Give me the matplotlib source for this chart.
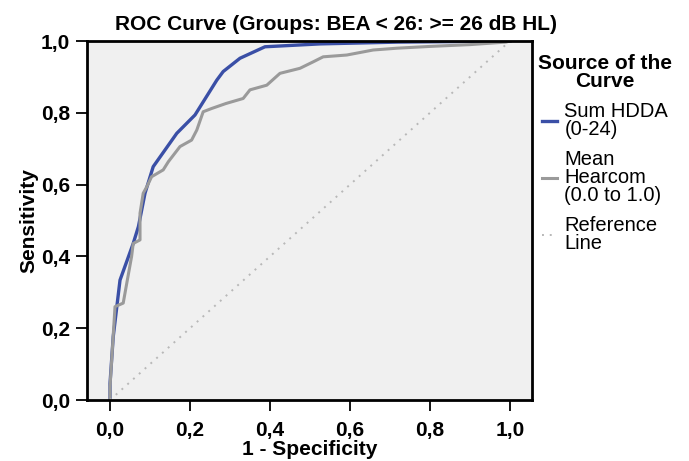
import numpy as np
import matplotlib.pyplot as plt

plt.rcParams['font.family'] = ['Liberation Sans', 'DejaVu Sans']

# Sum HDDA (0-24) curve
hdda_fpr = [0.0, 0.0, 0.008, 0.025, 0.058, 0.071, 0.0875, 0.108, 0.167, 0.2125,
            0.267, 0.283, 0.325, 0.3875, 0.525, 0.72, 1.0]
hdda_tpr = [0.0, 0.046, 0.176, 0.334, 0.436, 0.483, 0.576, 0.65, 0.743, 0.794,
            0.891, 0.915, 0.952, 0.984, 0.992, 0.997, 1.0]

# Mean Hearcom (0.0 to 1.0) curve
hear_fpr = [0.0, 0.0, 0.0125, 0.033, 0.042, 0.054, 0.058, 0.075, 0.075, 0.083,
            0.092, 0.104, 0.133, 0.146, 0.175, 0.204, 0.217, 0.233, 0.254, 0.29,
            0.333, 0.35, 0.392, 0.425, 0.475, 0.508, 0.533, 0.592, 0.658, 0.717,
            0.8, 0.9, 0.99, 1.0]
hear_tpr = [0.0, 0.037, 0.26, 0.27, 0.326, 0.4, 0.436, 0.446, 0.52, 0.576,
            0.594, 0.622, 0.641, 0.664, 0.706, 0.724, 0.752, 0.803, 0.812, 0.826,
            0.840, 0.864, 0.877, 0.91, 0.924, 0.942, 0.956, 0.961, 0.975, 0.98,
            0.985, 0.99, 0.997, 1.0]

ticks = [0.0, 0.2, 0.4, 0.6, 0.8, 1.0]
tick_labels = ['0,0', '0,2', '0,4', '0,6', '0,8', '1,0']

fig = plt.figure(figsize=(6.89, 4.61), dpi=100)
ax = fig.add_axes([0.1263, 0.1323, 0.6457, 0.7787])
ax.set_facecolor('#f0f0f0')

ax.plot(hdda_fpr, hdda_tpr, color='#3a4fa6', lw=2.4, label='Sum HDDA\n(0-24)')
ax.plot(hear_fpr, hear_tpr, color='#9a9a9a', lw=2.2, label='Mean\nHearcom\n(0.0 to 1.0)')
ax.plot([0, 1], [0, 1], color='#b8b8b8', lw=1.4, ls=(0, (1, 3)), label='Reference\nLine')

ax.set_xlim(-0.0575, 1.055)
ax.set_ylim(0, 1)
ax.set_xticks(ticks)
ax.set_xticklabels(tick_labels)
ax.set_yticks(ticks)
ax.set_yticklabels(tick_labels)
ax.tick_params(direction='out', length=8, width=1.3, labelsize=15)
ax.tick_params(axis='x', pad=7)
ax.tick_params(axis='y', pad=4)
for lbl in ax.get_xticklabels() + ax.get_yticklabels():
    lbl.set_fontweight('bold')
for sp in ax.spines.values():
    sp.set_linewidth(2)

ax.set_xlabel('1 - Specificity', fontsize=15, fontweight='bold', labelpad=0)
ax.set_ylabel('Sensitivity', fontsize=15, fontweight='bold', labelpad=2)
fig.text(336 / 689, 1 - 30 / 461, 'ROC Curve (Groups: BEA < 26: >= 26 dB HL)',
         fontsize=15, fontweight='bold', ha='center', va='baseline')

leg = ax.legend(loc='upper left', bbox_to_anchor=(1.005, 0.975), frameon=False,
                handlelength=0.75, handletextpad=0.35, fontsize=14.5,
                title='Source of the\nCurve', labelspacing=0.55,
                borderaxespad=0.0, borderpad=0.2,
                title_fontproperties={'weight': 'bold', 'size': 15})
leg.get_title().set_linespacing(0.95)
leg.get_title().set_ha('center')
for t in leg.get_texts():
    t.set_linespacing(0.92)

fig.savefig('out.png', dpi=100)
